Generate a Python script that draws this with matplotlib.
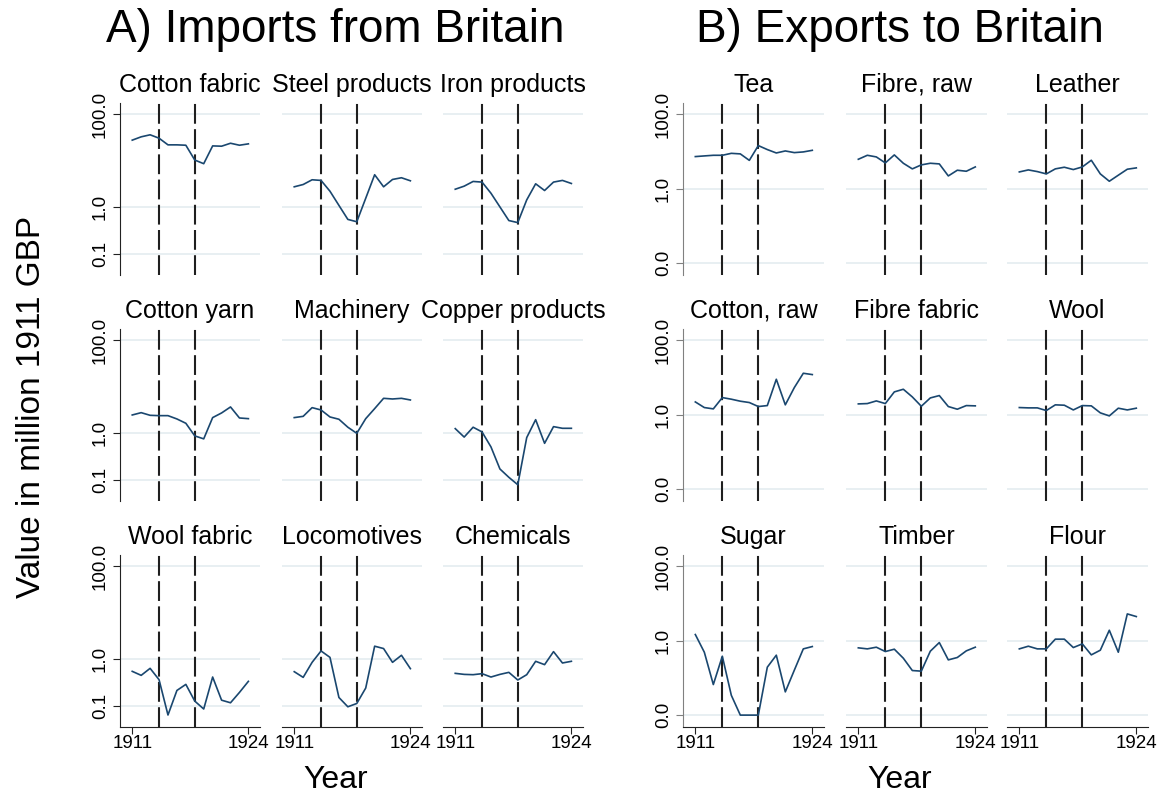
"""Small multiples of trade with Britain, 1911-1924 (log scale)."""
import matplotlib

matplotlib.use("Agg")
import matplotlib.pyplot as plt

YEARS = list(range(1911, 1925))
BREAKS = [1914, 1918]

# A) imports from Britain, million 1911 GBP
cotton_fabric = [27.5, 32.4, 35.8, 30.3, 21.8, 21.8, 21.4, 10.3, 8.6, 20.7, 20.4, 23.6, 21.4, 22.9]
steel_products = [2.75, 3.08, 3.89, 3.77, 2.21, 1.10, 0.55, 0.49, 1.56, 4.99, 2.75, 3.95, 4.30, 3.70]
iron_products = [2.44, 2.84, 3.58, 3.47, 2.00, 1.02, 0.52, 0.47, 1.44, 3.19, 2.29, 3.47, 3.77, 3.24]
cotton_yarn = [2.47, 2.77, 2.43, 2.39, 2.39, 2.03, 1.64, 0.88, 0.76, 2.17, 2.73, 3.67, 2.13, 2.06]
machinery = [2.17, 2.31, 3.55, 3.16, 2.24, 2.00, 1.35, 1.00, 2.06, 3.38, 5.62, 5.44, 5.62, 5.18]
copper_products = [1.26, 0.83, 1.35, 1.07, 0.51, 0.172, 0.114, 0.079, 0.81, 1.96, 0.61, 1.39, 1.28, 1.28]
wool_fabric = [0.552, 0.453, 0.640, 0.366, 0.064, 0.215, 0.290, 0.127, 0.086, 0.417, 0.133, 0.117, 0.195, 0.337]
locomotives = [0.543, 0.410, 0.861, 1.51, 1.10, 0.152, 0.096, 0.113, 0.242, 1.91, 1.70, 0.861, 1.22, 0.630]
chemicals = [0.50, 0.475, 0.468, 0.492, 0.417, 0.475, 0.525, 0.360, 0.468, 0.906, 0.768, 1.46, 0.834, 0.906]

# B) exports to Britain, million 1911 GBP
tea = [7.2, 7.5, 7.8, 7.8, 8.8, 8.5, 5.7, 14.2, 11.1, 9.0, 10.2, 9.2, 9.6, 10.6]
fibre_raw = [6.1, 7.8, 7.05, 4.87, 7.98, 4.77, 3.37, 4.31, 4.77, 4.58, 2.18, 3.10, 2.91, 3.80]
leather = [2.79, 3.16, 2.85, 2.47, 3.37, 3.73, 3.23, 3.80, 5.74, 2.47, 1.57, 2.28, 3.30, 3.58]
cotton_raw = [2.18, 1.54, 1.42, 2.85, 2.58, 2.28, 2.10, 1.64, 1.74, 8.84, 1.82, 5.28, 12.8, 11.8]
fibre_fabric = [1.93, 1.97, 2.32, 1.97, 4.05, 4.77, 2.97, 1.67, 2.79, 3.23, 1.64, 1.39, 1.74, 1.71]
wool = [1.54, 1.51, 1.51, 1.28, 1.82, 1.78, 1.33, 1.74, 1.71, 1.11, 0.92, 1.48, 1.33, 1.48]
sugar = [1.45, 0.486, 0.066, 0.380, 0.034, 0.01, 0.01, 0.01, 0.193, 0.405, 0.042, 0.160, 0.598, 0.690]
timber = [0.637, 0.598, 0.663, 0.507, 0.586, 0.336, 0.157, 0.151, 0.518, 0.884, 0.303, 0.351, 0.529, 0.663]
flour = [0.598, 0.705, 0.598, 0.598, 1.09, 1.09, 0.649, 0.814, 0.413, 0.551, 1.89, 0.486, 5.18, 4.40]

IMPORT_TITLES = ["Cotton fabric", "Steel products", "Iron products",
                 "Cotton yarn", "Machinery", "Copper products",
                 "Wool fabric", "Locomotives", "Chemicals"]
IMPORT_SERIES = [cotton_fabric, steel_products, iron_products,
                 cotton_yarn, machinery, copper_products,
                 wool_fabric, locomotives, chemicals]
EXPORT_TITLES = ["Tea", "Fibre, raw", "Leather",
                 "Cotton, raw", "Fibre fabric", "Wool",
                 "Sugar", "Timber", "Flour"]
EXPORT_SERIES = [tea, fibre_raw, leather,
                 cotton_raw, fibre_fabric, wool,
                 sugar, timber, flour]

IMPORT_YTICKS = [0.1, 1, 100]
IMPORT_YLABELS = ["0.1", "1.0", "100.0"]
EXPORT_YTICKS = [0.01, 1, 100]
EXPORT_YLABELS = ["0.0", "1.0", "100.0"]

W, H = 1162, 799
ROWS = [(103, 275), (329, 501), (555, 727)]
LEFT_COLS = [120, 282, 443]
RIGHT_COLS = [683, 846, 1007]
LINE = "#1a476f"
GRID = "#e6eef1"


def px_axes(fig, x0, y0, x1, y1):
    return fig.add_axes([x0 / W, 1 - y1 / H, (x1 - x0) / W, (y1 - y0) / H])


def draw_group(fig, cols, width, titles, series, yticks, ylabels, ylim, spine_col):
    for i, (title, vals) in enumerate(zip(titles, series)):
        r, c = divmod(i, 3)
        top, bot = ROWS[r]
        ax = px_axes(fig, cols[c], top, cols[c] + width, bot)
        ax.set_yscale("log")
        ax.set_ylim(*ylim)
        ax.set_xlim(1909.63, 1925.3)
        ax.set_yticks(yticks)
        ax.yaxis.set_minor_locator(matplotlib.ticker.NullLocator())
        ax.set_yticklabels(ylabels, rotation=90, va="center", fontsize=13.5)
        ax.set_xticks([1911, 1924])
        ax.set_xticklabels(["1911", "1924"], fontsize=13.5)
        ax.yaxis.grid(True, color=GRID, lw=1.3)
        ax.set_axisbelow(True)
        for yr in BREAKS:
            ax.axvline(yr, color="#1f1f1f", lw=1.5, ls=(0, (9.5, 2.6)), zorder=2)
        ax.plot(YEARS, vals, color=LINE, lw=1.2, zorder=3)
        ax.set_title(title, fontsize=18, pad=8)
        for side in ("top", "right"):
            ax.spines[side].set_visible(False)
        ax.spines["left"].set_color(spine_col)
        ax.spines["bottom"].set_color("#222222")
        ax.tick_params(axis="y", length=5, width=0.8, color=spine_col, pad=3)
        ax.tick_params(axis="x", length=5, width=0.8, color="#222222", pad=1)
        if c > 0:
            ax.spines["left"].set_visible(False)
            ax.tick_params(axis="y", left=False, labelleft=False)
        if r < 2:
            ax.spines["bottom"].set_visible(False)
            ax.tick_params(axis="x", bottom=False, labelbottom=False)


def main() -> None:
    plt.rcParams["font.family"] = ["Liberation Sans", "DejaVu Sans"]
    fig = plt.figure(figsize=(W / 100, H / 100), dpi=100)

    draw_group(fig, LEFT_COLS, 140, IMPORT_TITLES, IMPORT_SERIES,
               IMPORT_YTICKS, IMPORT_YLABELS, (0.0354, 172), "#222222")
    draw_group(fig, RIGHT_COLS, 141, EXPORT_TITLES, EXPORT_SERIES,
               EXPORT_YTICKS, EXPORT_YLABELS, (0.0048, 197), "#808080")

    fig.text(335 / W, 1 - 30 / H, "A) Imports from Britain", fontsize=33,
             ha="center", va="center")
    fig.text(900 / W, 1 - 30 / H, "B) Exports to Britain", fontsize=33,
             ha="center", va="center")
    fig.text(336 / W, 1 - 780 / H, "Year", fontsize=23, ha="center", va="center")
    fig.text(900 / W, 1 - 780 / H, "Year", fontsize=23, ha="center", va="center")
    fig.text(32 / W, 1 - 407 / H, "Value in million 1911 GBP", fontsize=24,
             rotation=90, ha="center", va="center")

    fig.savefig("out.png", dpi=100)
    plt.close(fig)


if __name__ == "__main__":
    main()
